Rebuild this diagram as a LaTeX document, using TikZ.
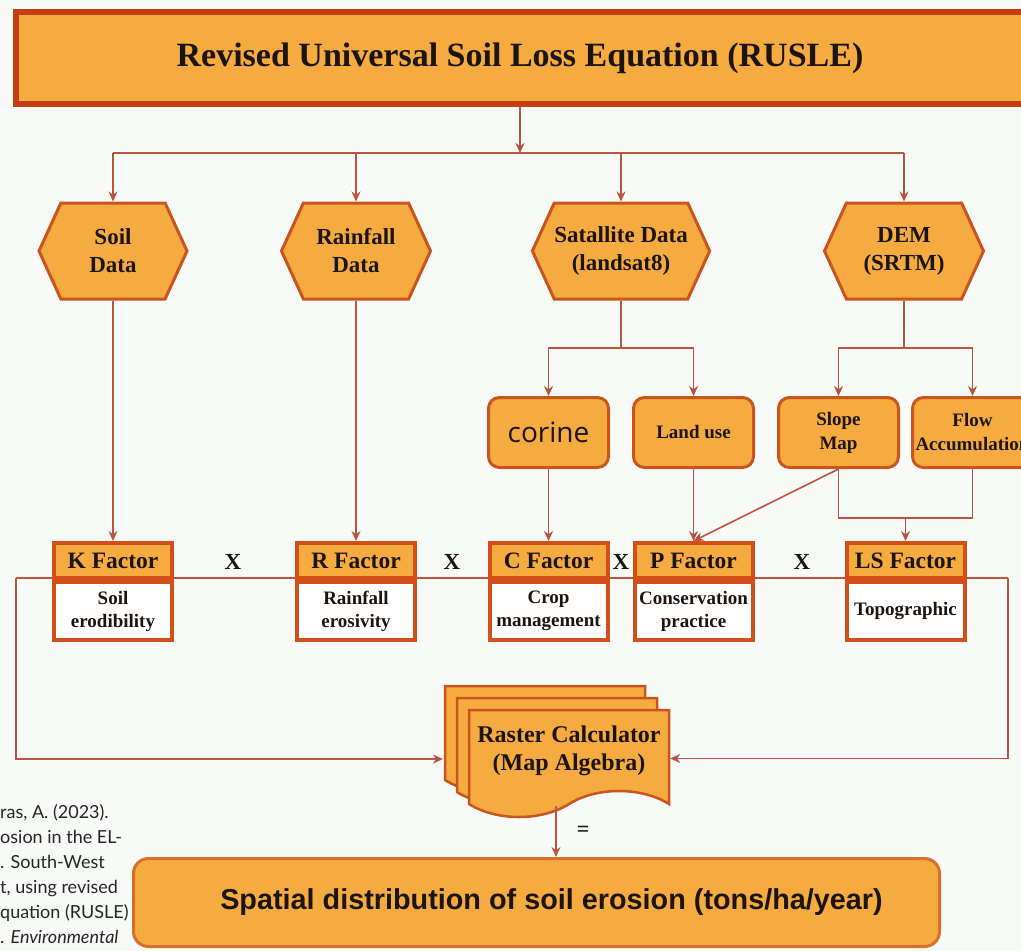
\documentclass[tikz,border=0pt]{standalone}
\usepackage{fontspec}
\setmainfont{Liberation Serif}
\newfontfamily\arialfont{Liberation Sans}
\newfontfamily\corinefont{Open Sans}
\newfontfamily\citefont{Lato}
\usetikzlibrary{positioning,shapes.symbols,shadows,arrows.meta}

\definecolor{bgclr}{RGB}{248,250,247}
\definecolor{boxfill}{RGB}{245,171,64}
\definecolor{titleedge}{RGB}{196,62,20}
\definecolor{hexedge}{RGB}{200,84,30}
\definecolor{factedge}{RGB}{212,78,26}
\definecolor{wireclr}{RGB}{186,84,62}
\definecolor{inkclr}{RGB}{28,20,14}
\definecolor{resultedge}{RGB}{214,112,42}

\begin{document}
\begin{tikzpicture}[x=1pt,y=1pt]
    \tikzstyle{every node}+=[inner sep=0pt, text=inkclr]
    \tikzstyle{wire}=[draw=wireclr, line width=1.6pt]
    \tikzstyle{conn}=[wire, -{Stealth[length=10pt,width=9pt]}]
    \tikzstyle{titlebox}=[rectangle, draw=titleedge, line width=6pt, fill=boxfill, minimum width=1009pt, minimum height=92pt, font=\bfseries\fontsize{34}{40}\selectfont]
    \tikzstyle{datahex}=[signal, signal to=west and east, signal pointer angle=131, draw=hexedge, line width=3pt, fill=boxfill, minimum height=96pt, align=center, font=\bfseries\fontsize{23}{28}\selectfont]
    \tikzstyle{inputbox}=[rectangle, rounded corners=11pt, draw=hexedge, line width=3pt, fill=boxfill, minimum width=120pt, minimum height=70pt, align=center, font=\bfseries\fontsize{19}{24}\selectfont]
    \tikzstyle{facthead}=[rectangle, draw=factedge, line width=4pt, fill=boxfill, minimum width=118pt, minimum height=35pt, font=\bfseries\fontsize{23.5}{28}\selectfont]
    \tikzstyle{factbody}=[rectangle, draw=factedge, line width=4pt, fill=white, minimum width=118pt, minimum height=58pt, align=center, font=\bfseries\fontsize{19}{23}\selectfont]
    \tikzstyle{times}=[font=\bfseries\fontsize{23}{28}\selectfont]
    \tikzstyle{rasterdoc}=[tape, tape bend top=none, tape bend bottom=in and out, tape bend height=26pt, draw=hexedge, line width=2.5pt, fill=boxfill, minimum width=200pt, minimum height=107pt, align=center, font=\bfseries\fontsize{24}{28}\selectfont, double copy shadow={shadow xshift=-12pt, shadow yshift=12pt, fill=boxfill, draw=hexedge, line width=2.5pt}]
    \tikzstyle{resultbox}=[rectangle, rounded corners=15pt, draw=resultedge, line width=3pt, fill=boxfill, minimum width=806pt, minimum height=88pt, font=\arialfont\bfseries\fontsize{28.8}{34}\selectfont]
    \tikzstyle{citetext}=[align=left, font=\citefont\fontsize{18}{25}\selectfont, text=black!85]

    % canvas
    \useasboundingbox (0,0) rectangle (1021,-951);
    \clip (0,0) rectangle (1021,-951);
    \fill[bgclr] (0,0) rectangle (1021,-951);

    % title
    \node[titlebox] (rusle) at (520,-58) {Revised Universal Soil Loss Equation (RUSLE)};

    % data sources
    \node[datahex, minimum width=148pt] (soil) at (113,-251) {Soil\\Data};
    \node[datahex, minimum width=149pt] (rain) at (356,-251) {Rainfall\\Data};
    \node[datahex, minimum width=173pt] (sat) at (621,-251) {Satallite Data\\(landsat8)};
    \node[datahex, minimum width=159pt] (dem) at (904,-251) {DEM\\(SRTM)};

    \coordinate (topbus) at (0,-153);
    \draw[conn] (rusle.south) -- (rusle.south |- topbus);
    \draw[wire] (soil.north |- topbus) -- (dem.north |- topbus);
    \draw[conn] (soil.north |- topbus) -- (soil.north);
    \draw[conn] (rain.north |- topbus) -- (rain.north);
    \draw[conn] (sat.north |- topbus) -- (sat.north);
    \draw[conn] (dem.north |- topbus) -- (dem.north);

    % derived layers
    \node[inputbox, font=\corinefont\fontsize{28}{32}\selectfont] (corine) at (548.5,-432.5) {corine};
    \node[inputbox] (landuse) at (693.5,-432.5) {Land use};
    \node[inputbox] (slope) at (838.5,-432.5) {Slope\\Map};
    \node[inputbox] (flow) at (972.5,-432.5) {Flow\\Accumulation};

    \coordinate (midbus) at (0,-348);
    \draw[wire] (sat.south) -- (sat.south |- midbus);
    \draw[conn] (sat.south |- midbus) -| (corine.north);
    \draw[conn] (sat.south |- midbus) -| (landuse.north);
    \draw[wire] (dem.south) -- (dem.south |- midbus);
    \draw[conn] (dem.south |- midbus) -| (slope.north);
    \draw[conn] (dem.south |- midbus) -| (flow.north);

    % factor row
    \coordinate (lcorner) at (16,-578);
    \coordinate (rcorner) at (1008,-578);
    \draw[wire] (lcorner) -- (rcorner);

    \node[facthead] (khead) at (113,-560.5) {K Factor};
    \node[factbody, below=0pt of khead] (kbody) {Soil\\erodibility};
    \node[facthead] (rhead) at (356,-560.5) {R Factor};
    \node[factbody, below=0pt of rhead] (rbody) {Rainfall\\erosivity};
    \node[facthead] (chead) at (548.5,-560.5) {C Factor};
    \node[factbody, below=0pt of chead] (cbody) {Crop\\management};
    \node[facthead] (phead) at (693.5,-560.5) {P Factor};
    \node[factbody, below=0pt of phead] (pbody) {Conservation\\practice};
    \node[facthead] (lshead) at (905.5,-560.5) {LS Factor};
    \node[factbody, below=0pt of lshead] (lsbody) {Topographic};

    \node[times] (x1) at (233,-562) {X};
    \node[times] (x2) at (452,-562) {X};
    \node[times] (x3) at (621,-562) {X};
    \node[times] (x4) at (802,-562) {X};

    \draw[conn] (soil.south) -- (khead.north);
    \draw[conn] (rain.south) -- (rhead.north);
    \draw[conn] (corine.south) -- (chead.north);
    \draw[conn] (landuse.south) -- (phead.north);
    \draw[conn] (slope.south) -- (phead.north);
    \coordinate (lsbus) at (0,-518);
    \draw[wire] (slope.south) |- (flow.south |- lsbus) -- (flow.south);
    \draw[conn] (lshead.north |- lsbus) -- (lshead.north);

    % raster calculator
    \node[rasterdoc] (raster) at (569,-750.5) {Raster Calculator\\(Map Algebra)};
    \coordinate (rasterin) at (443,-759);
    \draw[conn] (lcorner) |- (rasterin);
    \draw[conn] (rcorner) |- ([yshift=-8pt]raster.east);

    % result
    \node[resultbox] (result) at (536.5,-902.5) {\hspace*{30pt}Spatial distribution of soil erosion (tons/ha/year)};
    \draw[conn] ([xshift=-13pt,yshift=-14pt]raster.south) -- ([xshift=-13pt]raster.south |- result.north) node[midway, right=20pt, font=\bfseries\fontsize{22}{24}\selectfont] (eq) {=};

    \node[citetext, anchor=west] (cite) at (0,-874) {ras, A. (2023).\\osion in the EL-\\. South-West\\t, using revised\\quation (RUSLE)\\. \textit{Environmental}};
\end{tikzpicture}
\end{document}
